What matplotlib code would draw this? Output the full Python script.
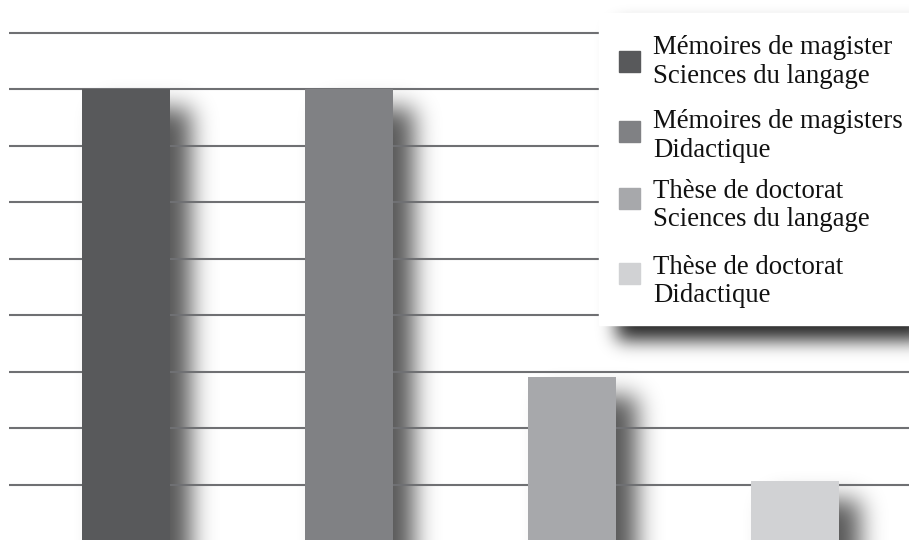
import numpy as np
import matplotlib
matplotlib.use("Agg")
import matplotlib.pyplot as plt
from matplotlib.patches import Rectangle

# ---------------- data ----------------
labels = [
    "Mémoires de magister\nSciences du langage",
    "Mémoires de magisters\nDidactique",
    "Thèse de doctorat\nSciences du langage",
    "Thèse de doctorat\nDidactique",
]
values = [8, 8, 2.91, 1.07]
colors = ["#58595b", "#808184", "#a7a8ab", "#d1d2d4"]
grid_ticks = [1, 2, 3, 4, 5, 6, 7, 8, 9]

W, H = 909, 540


def shadow_filter(dx, dy, sigma, alpha, extend_bottom=False):
    # blurred, offset drop shadow (agg_filter)
    r = int(3 * sigma)
    k = np.exp(-0.5 * (np.arange(-r, r + 1) / sigma) ** 2)
    k /= k.sum()

    def f(img, dpi):
        p = r + max(dx, dy) + 2
        a = np.pad(img[..., 3], p)
        if extend_bottom:
            a[-p:, p:-p] = a[-p - 1, p:-p]
        a = np.apply_along_axis(np.convolve, 0, a, k, mode="same")
        a = np.apply_along_axis(np.convolve, 1, a, k, mode="same")
        s = np.zeros_like(a)
        s[dy:, dx:] = a[:a.shape[0] - dy, :a.shape[1] - dx]
        out = np.zeros(a.shape + (4,))
        out[..., 3] = np.clip(s * alpha, 0, 1)
        return out, -p, -p

    return f


fig = plt.figure(figsize=(W / 100, H / 100), dpi=100)
ax = fig.add_axes([9 / W, 0, 900 / W, 1])

x = np.arange(len(values))
width = 0.395

sh = ax.bar(x, values, width, color="k", zorder=0.3)
for p in sh:
    p.set_agg_filter(shadow_filter(21, 19, 12, 0.66, extend_bottom=True))

ax.bar(x, values, width, color=colors, zorder=3)

ax.set_xlim(-0.525, 3.511)
ax.set_ylim(0.0265, 9.584)
ax.set_yticks(grid_ticks)
ax.set_axisbelow(True)
ax.grid(axis="y", color="#6f7073", lw=1.5)
ax.tick_params(left=False, bottom=False, labelleft=False, labelbottom=False)
for s in ax.spines.values():
    s.set_visible(False)

# ---------------- legend (drawn by hand) ----------------
bx, btop, bbot = 599, 13, 325
lshadow = Rectangle((bx / W, (H - bbot) / H), 330 / W, (bbot - btop) / H,
                    transform=fig.transFigure, color="k", zorder=5)
lshadow.set_agg_filter(shadow_filter(18, 14, 9, 0.85))
fig.add_artist(lshadow)
fig.add_artist(Rectangle((bx / W, (H - bbot) / H), 330 / W, (bbot - btop) / H,
                         transform=fig.transFigure, color="white", zorder=6))

sq_y = [61.5, 131, 198.5, 273]
base_y = [54.5, 128.5, 197.5, 273.5]
line_dy = 28.5
for lab, c, sy, by in zip(labels, colors, sq_y, base_y):
    fig.add_artist(Rectangle((619 / W, (H - sy - 10.5) / H), 21 / W, 21 / H,
                             transform=fig.transFigure, color=c, zorder=7))
    for i, line in enumerate(lab.split("\n")):
        fig.text(653 / W, (H - by - i * line_dy) / H, line,
                 family="Liberation Serif", fontsize=19.3, color="#111111",
                 va="baseline", ha="left", zorder=8)

fig.savefig("out.png", dpi=100)
